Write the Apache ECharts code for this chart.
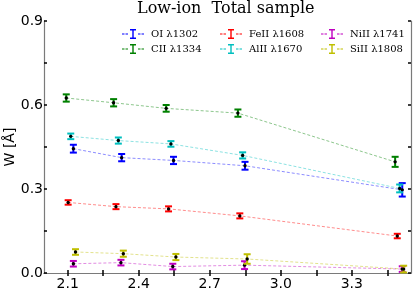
<!DOCTYPE html>
<html>
<head>
<meta charset="utf-8">
<script src="https://cdn.jsdelivr.net/npm/echarts@6/dist/echarts.min.js"></script>
<style>html,body{margin:0;padding:0;background:#fff}#c{width:415px;height:292px}</style>
</head>
<body>
<div id="c"></div>
<script>
// ---- data ----
const seriesNames = ['OI λ1302', 'CII λ1334', 'FeII λ1608', 'AlII λ1670', 'NiII λ1741', 'SiII λ1808'];
const seriesColors = ['#0000ff', '#008000', '#ff0000', '#00bfbf', '#bf00bf', '#bfbf00'];

const oiX   = [2.124, 2.328, 2.547, 2.849, 3.513];
const oiW   = [0.444, 0.412, 0.402, 0.383, 0.297];
const oiErr = [0.014, 0.013, 0.013, 0.014, 0.024];

const ciiX   = [2.094, 2.294, 2.516, 2.819, 3.483];
const ciiW   = [0.625, 0.608, 0.588, 0.571, 0.397];
const ciiErr = [0.013, 0.013, 0.012, 0.013, 0.018];

const feiiX   = [2.102, 2.304, 2.526, 2.827, 3.492];
const feiiW   = [0.252, 0.237, 0.229, 0.204, 0.132];
const feiiErr = [0.008, 0.009, 0.009, 0.009, 0.008];

const aliiX   = [2.113, 2.314, 2.536, 2.839, 3.502];
const aliiW   = [0.488, 0.473, 0.461, 0.420, 0.302];
const aliiErr = [0.010, 0.011, 0.010, 0.011, 0.014];

const niiiX   = [2.124, 2.325, 2.544, 2.847, 3.513];
const niiiW   = [0.033, 0.037, 0.023, 0.028, 0.014];
const niiiErr = [0.010, 0.010, 0.010, 0.014, 0.010];

const siiiX   = [2.133, 2.335, 2.557, 2.858, 3.519];
const siiiW   = [0.075, 0.069, 0.057, 0.050, 0.014];
const siiiErr = [0.010, 0.011, 0.011, 0.017, 0.012];

const xLabelValues = [2.1, 2.4, 2.7, 3.0, 3.3];
const xTickValues = [2.1, 2.25, 2.4, 2.55, 2.7, 2.85, 3.0, 3.15, 3.3, 3.45];
const titleText = 'Low-ion  Total sample';
const yName = 'W [Å]';

// ---- build ----
const allX = [oiX, ciiX, feiiX, aliiX, niiiX, siiiX];
const allW = [oiW, ciiW, feiiW, aliiW, niiiW, siiiW];
const allE = [oiErr, ciiErr, feiiErr, aliiErr, niiiErr, siiiErr];

function errRender(color) {
  return function (params, api) {
    const x = api.value(0), y = api.value(1), e = api.value(2);
    const p = api.coord([x, y]);
    const hi = api.coord([x, y + e]);
    const lo = api.coord([x, y - e]);
    const hw = 3.5;
    const st = { stroke: color, lineWidth: 2 };
    return {
      type: 'group',
      children: [
        { type: 'line', shape: { x1: p[0], y1: hi[1], x2: p[0], y2: lo[1] }, style: st },
        { type: 'line', shape: { x1: p[0] - hw, y1: hi[1], x2: p[0] + hw, y2: hi[1] }, style: st },
        { type: 'line', shape: { x1: p[0] - hw, y1: lo[1], x2: p[0] + hw, y2: lo[1] }, style: st },
        { type: 'circle', shape: { cx: p[0], cy: p[1], r: 1.7 }, style: { fill: '#000' } }
      ]
    };
  };
}

const series = [];
seriesNames.forEach((name, i) => {
  const pts = allX[i].map((x, k) => [x, allW[i][k], allE[i][k]]);
  series.push({
    name, type: 'line', data: pts.map(p => [p[0], p[1]]),
    showSymbol: false, symbol: 'none', color: seriesColors[i],
    lineStyle: { color: seriesColors[i], width: 1, type: [3, 2], opacity: 0.45 },
    silent: true, z: 2
  });
  series.push({
    name, type: 'custom', data: pts, color: seriesColors[i],
    itemStyle: { color: seriesColors[i] },
    renderItem: errRender(seriesColors[i]), z: 3
  });
});

const iconPath = 'path://M0 4.6h2.5v0.8h-2.5z M3.5 4.6h2.5v0.8h-2.5z M8 0h6v1.6h-6z M10.3 1.6h1.4v6.8h-1.4z M8 8.4h6v1.6h-6z M16 4.6h2.5v0.8h-2.5z M19.5 4.6h2.5v0.8h-2.5z';
const legendPos = [[122, 29], [122, 44], [220, 29], [220, 44], [321, 29], [321, 44]];
const legends = seriesNames.map((name, i) => ({
  data: [{ name, icon: iconPath }],
  left: legendPos[i][0], top: legendPos[i][1],
  padding: 0, itemWidth: 22, itemHeight: 10, itemGap: 0,
  textStyle: { fontFamily: 'DejaVu Serif', fontSize: 10, color: '#000', padding: [0, 0, 0, 2] }
}));

const axisLineStyle = { color: '#7a7a7a', width: 1.2 };
const tickStyle = { color: '#000', width: 1.5 };
const fmt = v => Number(v).toFixed(1);

const option = {
  animation: false,
  backgroundColor: '#fff',
  title: {
    text: titleText, left: 137, top: 1, padding: 0,
    textStyle: { fontFamily: 'DejaVu Serif', fontSize: 16, fontWeight: 'normal', color: '#000' }
  },
  legend: legends,
  graphic: [{
    type: 'text', x: 10, y: 147, rotation: Math.PI / 2,
    style: { text: yName, font: '14px "DejaVu Sans"', fill: '#000', align: 'center', verticalAlign: 'middle' }
  }],
  grid: { left: 44, right: 4, top: 21, bottom: 19, containLabel: false, outerBoundsMode: 'none' },
  xAxis: [
    {
      type: 'value', min: 2.0, max: 3.55, position: 'bottom',
      axisLine: { show: true, lineStyle: axisLineStyle },
      axisTick: { show: true, inside: true, length: 3, lineStyle: tickStyle, customValues: xTickValues },
      axisLabel: { customValues: xLabelValues, formatter: fmt, margin: 4, fontFamily: 'DejaVu Sans', fontSize: 14, color: '#000' },
      splitLine: { show: false }
    },
    {
      type: 'value', min: 2.0, max: 3.55, position: 'top',
      axisLine: { show: true, lineStyle: axisLineStyle },
      axisTick: { show: true, inside: true, length: 3, lineStyle: tickStyle, customValues: xTickValues },
      axisLabel: { show: false },
      splitLine: { show: false }
    }
  ],
  yAxis: [
    {
      type: 'value', min: 0, max: 0.9, interval: 0.3, position: 'left',
      axisLine: { show: true, lineStyle: axisLineStyle },
      axisTick: { show: true, inside: true, length: 3, lineStyle: tickStyle },
      minorTick: { show: true, splitNumber: 2, length: 3, lineStyle: tickStyle },
      axisLabel: { formatter: fmt, margin: 1, fontFamily: 'DejaVu Sans', fontSize: 14, color: '#000' },
      splitLine: { show: false }
    },
    {
      type: 'value', min: 0, max: 0.9, interval: 0.3, position: 'right',
      axisLine: { show: true, lineStyle: axisLineStyle },
      axisTick: { show: true, inside: true, length: 3, lineStyle: tickStyle },
      minorTick: { show: true, splitNumber: 2, length: 3, lineStyle: tickStyle },
      axisLabel: { show: false },
      splitLine: { show: false }
    }
  ],
  series
};

const chart = echarts.init(document.getElementById('c'), null, { renderer: 'canvas' });
chart.setOption(option);
</script>
</body>
</html>
